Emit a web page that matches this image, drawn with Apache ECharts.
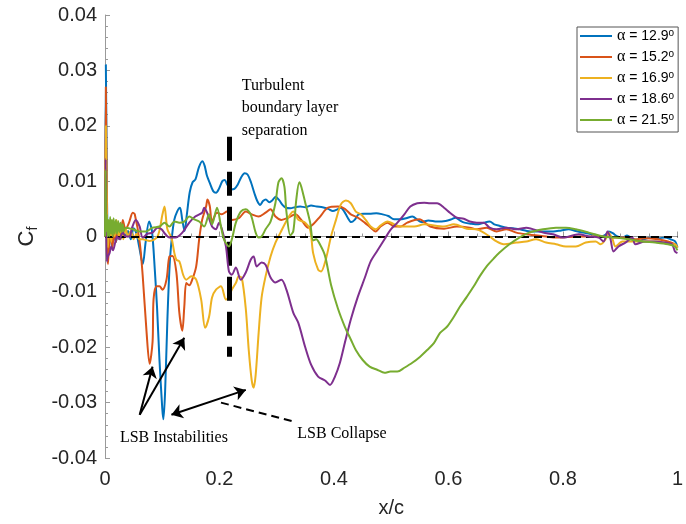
<!DOCTYPE html>
<html><head><meta charset="utf-8">
<script src="https://cdn.jsdelivr.net/npm/echarts@6/dist/echarts.min.js"></script>
<style>html,body{margin:0;padding:0;background:#fff}#c{width:686px;height:524px}</style>
</head><body><div id="c"></div>
<script>
// ---------- data (x/c, Cf) ----------
const angles = ['12.9', '15.2', '16.9', '18.6', '21.5'];
const colors = ['#0072BD', '#D95319', '#EDB120', '#7E2F8E', '#77AC30'];

const cf129 = [[0,0],[0.0015,0.031],[0.003,0.012],[0.004,0.003],[0.006,-0.003],[0.009,0.002],[0.012,-0.002],[0.015,0.001],[0.019,-0.001],[0.023,0.001],[0.027,-0.0005],[0.031,0.0015],[0.035,0],[0.040,0.001],[0.045,-0.0005],[0.050,0.0015],[0.055,0.0005],[0.060,-0.002],[0.066,-0.005],[0.071,-0.001],[0.077,0.0027],[0.082,0.001],[0.087,-0.006],[0.091,-0.013],[0.095,-0.022],[0.100,-0.031],[0.102,-0.033],[0.105,-0.028],[0.109,-0.015],[0.113,-0.005],[0.117,0],[0.121,0.003],[0.126,0.0045],[0.131,0.0052],[0.135,0.003],[0.139,0.001],[0.143,0.004],[0.148,0.008],[0.153,0.0098],[0.158,0.0103],[0.164,0.0125],[0.170,0.0136],[0.174,0.0128],[0.178,0.011],[0.183,0.0097],[0.189,0.0082],[0.194,0.0079],[0.199,0.0086],[0.205,0.0100],[0.209,0.0102],[0.214,0.0093],[0.220,0.0085],[0.226,0.0086],[0.232,0.0094],[0.238,0.0107],[0.244,0.0114],[0.249,0.0112],[0.255,0.0098],[0.261,0.0078],[0.266,0.0064],[0.271,0.0057],[0.276,0.0064],[0.281,0.0067],[0.287,0.0062],[0.292,0.0065],[0.298,0.0072],[0.304,0.0066],[0.310,0.0057],[0.316,0.0052],[0.324,0.0051],[0.332,0.0053],[0.341,0.0054],[0.350,0.0053],[0.360,0.0056],[0.370,0.0054],[0.380,0.0053],[0.390,0.0050],[0.398,0.0046],[0.406,0.0049],[0.412,0.0052],[0.418,0.0045],[0.424,0.0034],[0.430,0.0026],[0.436,0.0030],[0.443,0.0040],[0.452,0.0041],[0.462,0.0041],[0.474,0.0042],[0.485,0.0040],[0.495,0.0037],[0.505,0.0031],[0.515,0.0031],[0.526,0.0033],[0.537,0.0036],[0.546,0.0030],[0.553,0.0026],[0.565,0.0029],[0.580,0.0027],[0.595,0.0028],[0.605,0.0031],[0.612,0.0034],[0.620,0.0029],[0.628,0.0025],[0.640,0.0023],[0.652,0.0022],[0.662,0.0025],[0.672,0.0027],[0.680,0.0022],[0.690,0.0019],[0.701,0.0016],[0.712,0.0015],[0.724,0.0013],[0.737,0.0010],[0.750,0.0009],[0.765,0.0009],[0.783,0.0009],[0.797,0.0011],[0.810,0.0013],[0.822,0.0010],[0.835,0.0007],[0.846,0.0005],[0.856,0.0003],[0.866,0],[0.874,0.0003],[0.880,0.0009],[0.887,0.0006],[0.895,0],[0.904,-0.0002],[0.912,0.0002],[0.920,-0.0003],[0.932,-0.0009],[0.944,-0.0004],[0.956,-0.0002],[0.968,-0.0003],[0.978,-0.0002],[0.988,-0.0005],[0.996,-0.0009],[1.0,-0.002]];

const cf152 = [[0,0],[0.0015,0.027],[0.003,0.008],[0.005,-0.005],[0.007,-0.002],[0.010,0.001],[0.013,-0.002],[0.016,0.0015],[0.019,-0.001],[0.023,0.0015],[0.027,-0.0005],[0.031,0.003],[0.036,0.0013],[0.042,0.0025],[0.0485,0.0043],[0.052,0.004],[0.0606,-0.001],[0.0658,-0.007],[0.0727,-0.0174],[0.0779,-0.023],[0.0831,-0.019],[0.0848,-0.0114],[0.090,-0.009],[0.0952,-0.009],[0.1004,-0.0096],[0.1074,-0.0078],[0.1126,-0.0036],[0.1177,-0.0035],[0.1247,-0.0065],[0.1299,-0.0138],[0.1351,-0.017],[0.1385,-0.0127],[0.142,-0.0084],[0.1472,-0.0088],[0.1524,-0.0078],[0.1593,-0.0054],[0.1645,-0.0005],[0.1697,0.003],[0.1766,0.0054],[0.179,0.0067],[0.183,0.0055],[0.187,0.0027],[0.1957,0.0043],[0.204,0.004],[0.213,0.0045],[0.2216,0.003],[0.2338,0.0033],[0.2459,0.0045],[0.2563,0.004],[0.2684,0.0036],[0.2805,0.0043],[0.2892,0.0049],[0.2978,0.0036],[0.3082,0.003],[0.3203,0.0034],[0.3325,0.004],[0.3429,0.003],[0.355,0.0016],[0.3636,0.0022],[0.3758,0.0036],[0.3896,0.0052],[0.4069,0.0054],[0.419,0.005],[0.4294,0.004],[0.4416,0.0034],[0.4537,0.0025],[0.4641,0.0016],[0.4727,0.0009],[0.4814,0.0018],[0.4935,0.0025],[0.5056,0.0018],[0.516,0.0018],[0.5281,0.0025],[0.5489,0.0031],[0.568,0.0018],[0.5922,0.0014],[0.6147,0.0018],[0.6372,0.0016],[0.6494,0.0013],[0.6667,0.0016],[0.684,0.0009],[0.7013,0.0013],[0.7186,0.0007],[0.7359,0.0004],[0.7706,0],[0.7879,-0.0002],[0.828,0],[0.869,0],[0.892,-0.0002],[0.909,-0.0002],[0.926,-0.0005],[0.944,-0.0003],[0.966,-0.0005],[0.9835,-0.0009],[0.9957,-0.0014],[1.0,-0.002]];

const cf169 = [[0,0],[0.0015,0.020],[0.003,0.006],[0.005,-0.002],[0.008,0.002],[0.011,-0.001],[0.014,0.003],[0.017,0],[0.020,0.003],[0.024,0],[0.028,0.002],[0.032,-0.0005],[0.036,0.0015],[0.040,0],[0.045,0.001],[0.050,-0.0005],[0.055,0.0005],[0.060,-0.0005],[0.0658,-0.0005],[0.0779,-0.0008],[0.0918,0],[0.1004,0.004],[0.1039,0.0054],[0.109,0.0013],[0.116,-0.0002],[0.1212,-0.003],[0.1247,-0.0042],[0.1299,-0.0045],[0.1368,-0.007],[0.142,-0.0078],[0.1506,-0.0072],[0.1593,-0.0078],[0.168,-0.0114],[0.1749,-0.0165],[0.1818,-0.0145],[0.187,-0.011],[0.1939,-0.0096],[0.2026,-0.009],[0.2113,-0.0114],[0.2165,-0.0108],[0.2216,-0.0096],[0.2286,-0.0084],[0.2338,-0.0072],[0.239,-0.0075],[0.2459,-0.013],[0.2511,-0.0205],[0.2563,-0.026],[0.2597,-0.0273],[0.2632,-0.025],[0.2684,-0.0174],[0.2736,-0.011],[0.2805,-0.0072],[0.2892,-0.0036],[0.2978,-0.0011],[0.3065,0.0007],[0.3152,0.0025],[0.3238,0.004],[0.329,0.0045],[0.3377,0.003],[0.3498,0.0025],[0.3584,0.0012],[0.3636,-0.003],[0.3723,-0.006],[0.3775,-0.0063],[0.3861,-0.004],[0.3948,0],[0.4035,0.003],[0.4121,0.0058],[0.4208,0.0065],[0.4294,0.006],[0.4381,0.0045],[0.4468,0.004],[0.4554,0.003],[0.4641,0.0018],[0.4727,0.0013],[0.4814,0.002],[0.4935,0.0027],[0.5056,0.0022],[0.516,0.0018],[0.5403,0.0018],[0.5576,0.0022],[0.5922,0.0018],[0.6095,0.0022],[0.632,0.0014],[0.6494,0.0013],[0.6615,0.0007],[0.6719,0],[0.684,-0.0009],[0.6961,-0.0014],[0.7186,-0.0011],[0.7359,-0.0009],[0.7532,-0.0005],[0.7706,-0.0011],[0.7879,-0.0014],[0.8052,-0.0018],[0.8225,-0.0018],[0.8398,-0.0011],[0.8571,-0.0009],[0.8658,-0.0014],[0.8745,-0.0005],[0.8797,0.0007],[0.8866,-0.0005],[0.8918,-0.0018],[0.9039,-0.0009],[0.9316,-0.0009],[0.9662,-0.0009],[0.9835,-0.0013],[0.9957,-0.0014],[1.0,-0.002]];

const cf186 = [[0,0],[0.0012,0.014],[0.003,-0.0045],[0.005,-0.0036],[0.008,-0.003],[0.011,-0.0018],[0.014,-0.0025],[0.018,-0.001],[0.021,0],[0.025,-0.0005],[0.031,0.0007],[0.036,0],[0.043,0],[0.047,0.0015],[0.0537,0.003],[0.0606,0.0018],[0.0658,-0.0002],[0.0745,0.0005],[0.0831,0.0007],[0.0918,0.0016],[0.0987,0.0013],[0.1056,0.0004],[0.1126,-0.0002],[0.1229,-0.0002],[0.1351,0.0007],[0.1472,0.0025],[0.1576,0.0036],[0.1697,0.0043],[0.1732,0.0052],[0.1784,0.0043],[0.187,0.0018],[0.1939,0.0013],[0.1991,0.0025],[0.2043,0.0013],[0.2113,-0.0018],[0.2165,-0.0063],[0.2216,-0.0069],[0.2286,-0.0056],[0.2372,-0.0078],[0.2459,-0.0065],[0.2545,-0.0042],[0.2597,-0.0036],[0.2649,-0.0054],[0.2736,-0.0047],[0.2805,-0.0051],[0.2892,-0.0074],[0.2978,-0.0083],[0.3082,-0.0078],[0.3169,-0.0096],[0.329,-0.0138],[0.3377,-0.0156],[0.3498,-0.020],[0.3602,-0.0232],[0.3723,-0.0253],[0.3844,-0.026],[0.3931,-0.0268],[0.4017,-0.0253],[0.4104,-0.0228],[0.419,-0.0192],[0.4294,-0.015],[0.4416,-0.0109],[0.4537,-0.0075],[0.4641,-0.0045],[0.4762,-0.0025],[0.4883,-0.0005],[0.4987,0.0012],[0.5108,0.0025],[0.5229,0.004],[0.5333,0.0054],[0.5455,0.006],[0.5576,0.0061],[0.568,0.006],[0.5801,0.006],[0.5922,0.0052],[0.6026,0.0043],[0.6147,0.0034],[0.6268,0.0032],[0.6372,0.0027],[0.6494,0.0025],[0.6615,0.0025],[0.6719,0.0016],[0.684,0.0013],[0.7013,0.0016],[0.7186,0.0013],[0.7359,0.0016],[0.7654,0.0007],[0.7827,0.0004],[0.8,-0.0002],[0.8277,0.0004],[0.845,0],[0.8623,-0.0002],[0.871,-0.0009],[0.8779,0.0009],[0.8831,-0.0005],[0.8883,-0.0027],[0.897,-0.0018],[0.9091,-0.0011],[0.9212,-0.0002],[0.9264,-0.0014],[0.9437,-0.0009],[0.961,-0.0009],[0.9784,-0.0011],[0.9905,-0.0014],[0.9957,-0.0027],[1.0,-0.003]];

const cf215 = [[0,0],[0.001,0.012],[0.002,0.001],[0.003,0.004],[0.0045,0],[0.006,0.003],[0.0075,0],[0.009,0.0035],[0.0105,0.0005],[0.012,0.003],[0.0135,0],[0.015,0.0033],[0.017,0.0005],[0.019,0.003],[0.021,0.0005],[0.023,0.0028],[0.025,0.0008],[0.027,0.0025],[0.029,0.0008],[0.031,0.0022],[0.033,0.001],[0.0363,0.0016],[0.0485,0.0013],[0.0606,0.0009],[0.071,0.0009],[0.0831,0.0016],[0.0952,0.0018],[0.1039,0.0025],[0.1126,0.0018],[0.1212,0.0027],[0.1299,0.0025],[0.1385,0.0027],[0.1472,0.0036],[0.1558,0.0031],[0.1645,0.0027],[0.1732,0.0018],[0.1818,0.004],[0.187,0.0022],[0.1957,0.0052],[0.2026,0.0018],[0.2078,-0.0005],[0.2165,-0.0018],[0.2216,-0.0005],[0.2286,0.0025],[0.2372,0.0045],[0.2459,0.0049],[0.2545,0.004],[0.2632,0.0007],[0.2684,-0.0002],[0.2736,0],[0.2805,0.0013],[0.2892,0.0027],[0.2978,0.0061],[0.303,0.0098],[0.3082,0.0105],[0.3134,0.009],[0.3169,0.0045],[0.3238,0.0002],[0.329,0.001],[0.3342,0.0067],[0.3394,0.0098],[0.3429,0.009],[0.3498,0.0061],[0.3584,0.0025],[0.3636,-0.0007],[0.3688,-0.0005],[0.3758,-0.0015],[0.3844,-0.0035],[0.3948,-0.0087],[0.4069,-0.013],[0.419,-0.0163],[0.4294,-0.0186],[0.4381,-0.0205],[0.4502,-0.0223],[0.4623,-0.0235],[0.4762,-0.0241],[0.4883,-0.0246],[0.4987,-0.0244],[0.5108,-0.0244],[0.5229,-0.0237],[0.5368,-0.0228],[0.5506,-0.0217],[0.5628,-0.0205],[0.5749,-0.0192],[0.5853,-0.0174],[0.5974,-0.0163],[0.6095,-0.0145],[0.6199,-0.0127],[0.632,-0.0109],[0.6442,-0.009],[0.6545,-0.0072],[0.6667,-0.0054],[0.6788,-0.004],[0.6892,-0.0029],[0.7065,-0.0014],[0.7238,-0.0002],[0.7411,0.0007],[0.7654,0.0013],[0.7879,0.0016],[0.8052,0.0016],[0.8225,0.0013],[0.845,0.0007],[0.8693,0],[0.8918,-0.0002],[0.9143,-0.0005],[0.9385,-0.0009],[0.961,-0.0011],[0.9835,-0.0014],[0.9957,-0.0018],[1.0,-0.0025]];

const seriesData = [cf129, cf152, cf169, cf186, cf215];

// annotation geometry in data coordinates
const separationLine = [[0.2165, 0.018], [0.2165, -0.0217]];
const zeroLine = [[0, 0], [1, 0]];
const instabilityArrows = [[[0.0606, -0.0322], [0.0831, -0.0235]], [[0.0606, -0.0322], [0.1385, -0.0183]]];
const collapseArrow = [[0.116, -0.0322], [0.246, -0.0277]];
const collapsePointer = [[0.2026, -0.030], [0.3325, -0.0335]];
const notes = [
  {text: 'Turbulent\nboundary layer\nseparation', at: [0.239, 0.0232]},
  {text: 'LSB Instabilities', at: [0.026, -0.0364]},
  {text: 'LSB Collapse', at: [0.336, -0.0357]}
];

// ---------- chart ----------
const chart = echarts.init(document.getElementById('c'));
const sans = 'Liberation Sans';
const serif = 'Liberation Serif';
const axisCol = '#9a9a9a';
const txtCol = '#262626';

const lines = angles.map((a, i) => ({
  name: a, type: 'line', data: seriesData[i], symbol: 'none', smooth: 0.3,
  lineStyle: {width: 2, color: colors[i]}, itemStyle: {color: colors[i]},
  silent: true, z: 2 + i
}));

const black = {color: '#000', width: 2, type: 'solid'};
const ml = (pts, sym, style) => [{coord: pts[0], symbol: sym[0], lineStyle: style}, {coord: pts[1], symbol: sym[1]}];

lines.push({
  name: 'annot', type: 'line', data: [], silent: true, z: 10,
  markLine: {
    silent: true, animation: false, symbolSize: 11, label: {show: false},
    emphasis: {disabled: true},
    data: [
      ml(zeroLine, ['none', 'none'], {color: '#000', width: 2, type: [8, 5]}),
      ml(separationLine, ['none', 'none'], {color: '#000', width: 5, type: [24, 11]}),
      ml(instabilityArrows[0], ['none', 'arrow'], black),
      ml(instabilityArrows[1], ['none', 'arrow'], black),
      ml(collapseArrow, ['arrow', 'arrow'], black),
      ml(collapsePointer, ['none', 'none'], {color: '#000', width: 2, type: [8, 5]})
    ]
  },
  markPoint: {
    silent: true, animation: false, symbol: 'circle', symbolSize: 0,
    data: notes.map(n => ({coord: n.at, value: 0,
      label: {show: true, position: 'right', distance: 0, formatter: n.text,
        fontFamily: serif, fontSize: 16, lineHeight: 22.5, color: '#000', align: 'left'}}))
  }
});

chart.setOption({
  animation: false,
  backgroundColor: '#fff',
  grid: {left: 105, right: 3.5, top: 15, bottom: 66, containLabel: false},
  legend: {
    data: angles, orient: 'vertical', left: 577, top: 27,
    icon: 'rect', itemWidth: 32, itemHeight: 2, itemGap: 5,
    padding: [1, 4, 4, 3], borderColor: '#555', borderWidth: 1,
    selectedMode: false,
    formatter: n => '{a|α} = ' + n + '{s|o}',
    textStyle: {fontFamily: sans, fontSize: 14, color: '#000', lineHeight: 15,
      rich: {a: {fontFamily: serif, fontSize: 16, lineHeight: 15},
             s: {fontSize: 10, verticalAlign: 'top', lineHeight: 15}}}
  },
  xAxis: {
    type: 'value', min: 0, max: 1, interval: 0.2,
    name: 'x/c', nameLocation: 'middle', nameGap: 40,
    nameTextStyle: {fontFamily: sans, fontSize: 20, color: txtCol},
    axisLine: {show: true, lineStyle: {color: axisCol, width: 1}},
    axisTick: {show: true, inside: true, length: 5, lineStyle: {color: axisCol}},
    minorTick: {show: true, splitNumber: 4, length: 3, lineStyle: {color: axisCol}},
    axisLabel: {fontFamily: sans, fontSize: 20, color: txtCol, margin: 11,
      formatter: v => String(+v.toFixed(2))},
    splitLine: {show: false}
  },
  yAxis: {
    type: 'value', min: -0.04, max: 0.04, interval: 0.01,
    name: '{c|C}{f|f}', nameLocation: 'middle', nameGap: 44,
    nameTextStyle: {color: txtCol, rich: {c: {fontFamily: sans, fontSize: 22, lineHeight: 28, color: txtCol},
      f: {fontFamily: sans, fontSize: 14, lineHeight: 28, verticalAlign: 'bottom', color: txtCol}}},
    axisLine: {show: true, lineStyle: {color: axisCol, width: 1}},
    axisTick: {show: true, inside: true, length: 5, lineStyle: {color: axisCol}},
    minorTick: {show: true, splitNumber: 5, length: 3, lineStyle: {color: axisCol}},
    axisLabel: {fontFamily: sans, fontSize: 20, color: txtCol, margin: 8,
      formatter: v => String(+v.toFixed(3))},
    splitLine: {show: false}
  },
  series: lines
});
</script>
</body></html>
